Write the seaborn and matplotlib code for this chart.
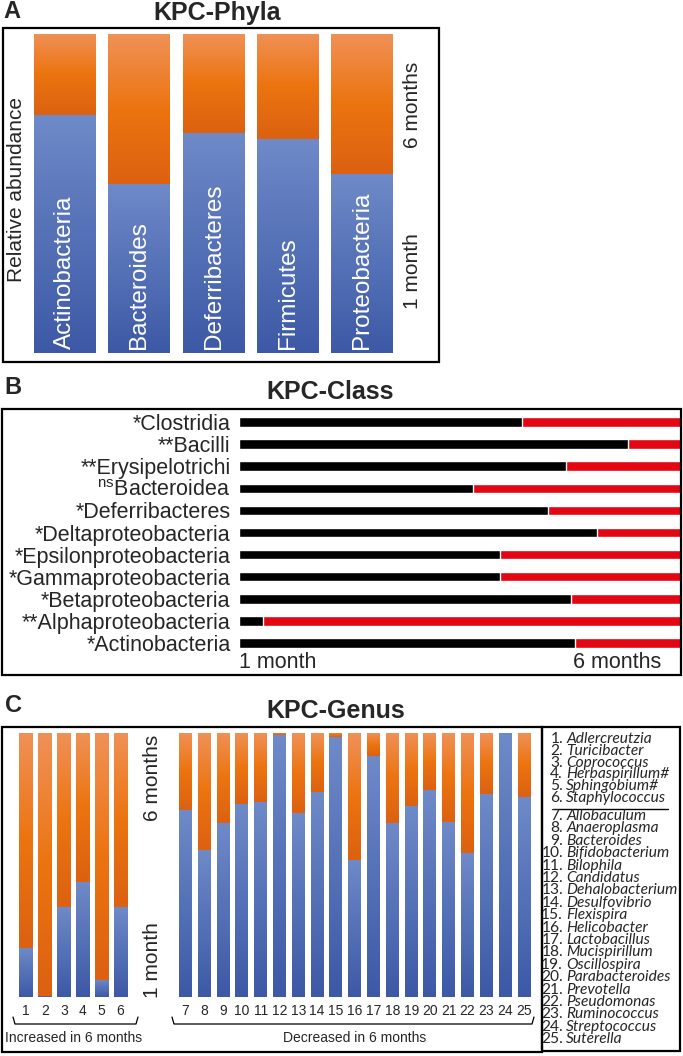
import numpy as np
import seaborn as sns
import matplotlib.pyplot as plt
from matplotlib.patches import Rectangle
from matplotlib.colors import LinearSegmentedColormap

# --- CONFIG ---
sns.set_theme(style="white")
plt.rcParams["font.family"] = ["Liberation Sans", "DejaVu Sans"]
plt.rcParams["mathtext.fontset"] = "custom"
plt.rcParams["mathtext.rm"] = "Liberation Sans"

W, H = 683, 1056
BLUE = "#4d6ab4"
ORANGE = "#e8701a"
RED = "#e30613"
blue_cmap = LinearSegmentedColormap.from_list("b", ["#3d59a6", "#6e8ac8"])
orange_cmap = LinearSegmentedColormap.from_list("o", ["#dc6111", "#ec740f", "#f09157"])

# --- DATA ---
phyla = ["Actinobacteria", "Bacteroides", "Deferribacteres", "Firmicutes", "Proteobacteria"]
phyla_1m = [0.746, 0.53, 0.69, 0.67, 0.56]

classes = ["*Clostridia", "**Bacilli", "**Erysipelotrichi", r"$^{\mathrm{ns}}$Bacteroidea",
           "*Deferribacteres", "*Deltaproteobacteria", "*Epsilonproteobacteria",
           "*Gammaproteobacteria", "*Betaproteobacteria", "**Alphaproteobacteria",
           "*Actinobacteria"]
class_1m = [0.64, 0.88, 0.74, 0.53, 0.70, 0.81, 0.59, 0.59, 0.75, 0.054, 0.76]

genus_up = ["1", "2", "3", "4", "5", "6"]
genus_up_1m = [0.185, 0.005, 0.34, 0.435, 0.065, 0.34]
genus_down = [str(i) for i in range(7, 26)]
genus_down_1m = [0.707, 0.558, 0.659, 0.73, 0.737, 0.991, 0.698, 0.777, 0.984, 0.519,
                 0.913, 0.659, 0.722, 0.785, 0.663, 0.545, 0.769, 1.0, 0.756]
genus_names = ["Adlercreutzia", "Turicibacter", "Coprococcus", "Herbaspirillum#",
               "Sphingobium#", "Staphylococcus", "Allobaculum", "Anaeroplasma",
               "Bacteroides", "Bifidobacterium", "Bilophila", "Candidatus",
               "Dehalobacterium", "Desulfovibrio", "Flexispira", "Helicobacter",
               "Lactobacillus", "Mucispirillum", "Oscillospira", "Parabacteroides",
               "Prevotella", "Pseudomonas", "Ruminococcus", "Streptococcus", "Suterella"]

fig = plt.figure(figsize=(W / 100, H / 100), dpi=100)


def px_axes(x0, y0, x1, y1):
    ax = fig.add_axes([x0 / W, 1 - y1 / H, (x1 - x0) / W, (y1 - y0) / H])
    ax.set_facecolor("none")
    return ax


grad = np.linspace(0, 1, 256).reshape(-1, 1)


def stacked(ax, labels, frac, width):
    n = len(labels)
    sns.barplot(x=labels, y=[1.0] * n, color=ORANGE, width=width, saturation=1,
                errorbar=None, ax=ax)
    sns.barplot(x=labels, y=frac, color=BLUE, width=width, saturation=1,
                errorbar=None, ax=ax)
    # gradient shading, one per segment
    for pb in ax.patches[n:]:
        x0, w, h = pb.get_x(), pb.get_width(), pb.get_height()
        if h > 0.002:
            ax.imshow(grad, cmap=blue_cmap, extent=(x0, x0 + w, 0, h), aspect="auto",
                      origin="lower", zorder=3)
        if h < 0.998:
            ax.imshow(grad, cmap=orange_cmap, extent=(x0, x0 + w, h, 1), aspect="auto",
                      origin="lower", zorder=3)
    ax.set_xlim(-0.5, n - 0.5)
    ax.set_ylim(0, 1)
    ax.set_xlabel("")
    ax.set_ylabel("")
    ax.set_yticks([])
    sns.despine(ax=ax, left=True, bottom=True)
    ax.tick_params(axis="x", length=0, pad=5, labelsize=10)


# ============================================================
# A - Phyla
# ============================================================
axa = px_axes(27.9, 34, 399.1, 353)
stacked(axa, phyla, phyla_1m, 0.835)
axa.set_xticks([])
for i, name in enumerate(phyla):
    axa.text(i, 0.012, name, rotation=90, ha="center", va="bottom", color="white",
             fontsize=17.5, zorder=5)

# ============================================================
# B - Class
# ============================================================
axb = px_axes(239, 411, 681, 654)
n = len(classes)
sns.barplot(x=[1.0] * n, y=classes, color=RED, orient="h", width=0.43, saturation=1,
            errorbar=None, ax=axb)
sns.barplot(x=class_1m, y=classes, color="black", orient="h", width=0.43, saturation=1,
            errorbar=None, ax=axb)
axb.set_xlim(0, 1)
axb.set_ylim(n - 0.5, -0.5)
axb.set_xticks([])
axb.set_xlabel("")
axb.set_ylabel("")
sns.despine(ax=axb, left=True, bottom=True)
axb.tick_params(axis="y", length=0, pad=6, labelsize=15.5)

# ============================================================
# C - Genus
# ============================================================
axc1 = px_axes(16.55, 733, 129.95, 997)
stacked(axc1, genus_up, genus_up_1m, 0.74)
axc2 = px_axes(176.1, 733, 533.4, 997)
stacked(axc2, genus_down, genus_down_1m, 0.69)

# ============================================================
# overlay: boxes, titles, annotations (pixel coords)
# ============================================================
ov = fig.add_axes([0, 0, 1, 1])
ov.set_xlim(0, W)
ov.set_ylim(H, 0)
ov.axis("off")
ov.patch.set_visible(False)

for (x0, y0, x1, y1) in [(3, 28, 439, 362), (2, 409, 681, 675),
                         (2, 727, 542, 1052), (542, 727, 680, 1051)]:
    ov.add_patch(Rectangle((x0, y0), x1 - x0, y1 - y0, fill=False, lw=1.6, ec="black"))

for letter, (x, y) in zip("ABC", [(12, 12), (13, 388), (13, 705)]):
    ov.text(x, y, letter, fontsize=17, fontweight="bold", ha="center", va="center")
for title, (x, y) in zip(["KPC-Phyla", "KPC-Class", "KPC-Genus"],
                         [(217, 13), (330, 392), (336, 711)]):
    ov.text(x, y, title, fontsize=18, fontweight="bold", ha="center", va="center")

ov.text(17, 189, "Relative abundance", rotation=90, fontsize=15, ha="center", va="center")
ov.text(412, 105, "6 months", rotation=90, fontsize=15, ha="center", va="center")
ov.text(412, 271, "1 month", rotation=90, fontsize=15, ha="center", va="center")

ov.text(239, 662, "1 month", fontsize=15.5, ha="left", va="center")
ov.text(661, 662, "6 months", fontsize=15.5, ha="right", va="center")

ov.text(153, 778, "6 months", rotation=90, fontsize=15, ha="center", va="center")
ov.text(153, 960, "1 month", rotation=90, fontsize=15, ha="center", va="center")

for (x0, x1, xc, label) in [(13, 138, 74, "Increased in 6 months"),
                            (172, 534, 355, "Decreased in 6 months")]:
    ov.plot([x0, x0 + 2, x1 - 2, x1], [1017, 1024, 1024, 1017], color="black", lw=0.9)
    ov.text(xc, 1038, label, fontsize=10, ha="center", va="center")

for i, name in enumerate(genus_names):
    y = 739 + 11.8 * i if i < 6 else 816 + 12.4 * (i - 6)
    ov.text(563, y, f"{i + 1}.", fontsize=11.2, family="Lato", ha="right", va="center")
    ov.text(566, y, name, fontsize=11.2, family="Lato", style="italic", ha="left",
            va="center")
ov.plot([553, 668], [809, 809], color="black", lw=1)

fig.savefig("out.png", dpi=100)
